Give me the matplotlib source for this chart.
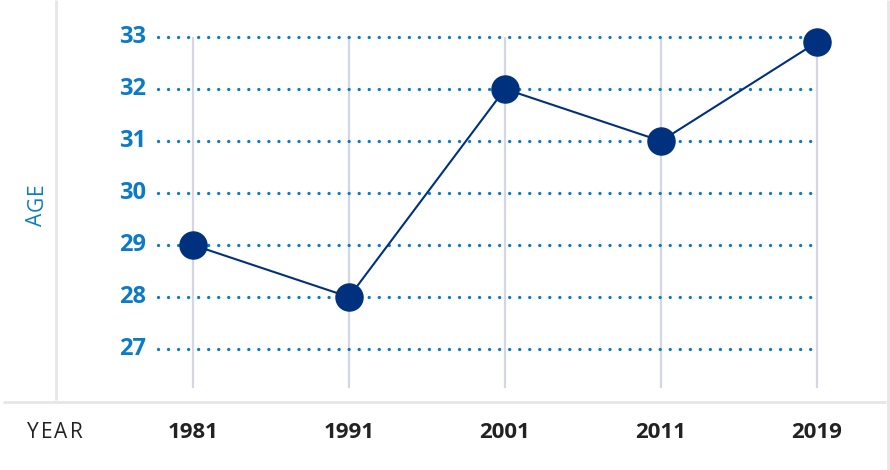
import matplotlib.pyplot as plt
from matplotlib.transforms import IdentityTransform

years = ["1981", "1991", "2001", "2011", "2019"]
ages = [29.0, 28.0, 32.0, 31.0, 32.9]
age_ticks = [27, 28, 29, 30, 31, 32, 33]

navy = "#00317f"
blue = "#0b7bc8"
grid_v = "#d3d7e5"
frame = "#e6e6e9"

plt.rcParams['font.family'] = ['Open Sans', 'DejaVu Sans']

W, H = 890, 470
fig = plt.figure(figsize=(W / 100, H / 100), dpi=100)
ax = fig.add_axes([0, 0, 1, 1])

# pixel mapping: x = 193 + 156*i, y = 37 + 52*(33 - v)
def px(x):
    return (x - 193) / 156

def py(y):
    return 33 - (y - 37) / 52

ax.set_xlim(px(0), px(W))
ax.set_ylim(py(H), py(0))
ax.axis("off")

xs = list(range(len(years)))

# frame lines
ax.plot([px(56), px(56)], [py(0), py(400)], color=frame, lw=2, solid_capstyle="butt")
ax.plot([px(888), px(888)], [py(0), py(H)], color=frame, lw=2, solid_capstyle="butt")
ax.plot([px(3), px(886)], [py(402), py(402)], color=frame, lw=2, solid_capstyle="butt")

# vertical grid lines
for x in xs:
    ax.plot([x, x], [age_ticks[-1], py(388)], color=grid_v, lw=1.6,
            solid_capstyle="butt", zorder=1)

# dotted horizontal grid lines + tick labels
for t in age_ticks:
    ax.plot([px(158), xs[-1]], [t, t], color=blue, lw=2.4,
            dashes=(0.01, 3.0), dash_capstyle="round", zorder=2)
    ax.text(px(146), t, str(t), ha="right", va="center", color=blue,
            fontsize=17, fontweight="bold")

# data
ax.plot(xs, ages, color=navy, lw=1.5, marker="o", markersize=19.5,
        markerfacecolor=navy, markeredgecolor=navy, zorder=3, clip_on=False)

for x, y in zip(xs, years):
    ax.text(x, py(432), y, ha="center", va="center", color="#222222",
            fontsize=16, fontweight="bold")

# letter-spaced axis titles
renderer = fig.canvas.get_renderer()

def spaced(s, x0, y0, gap, vertical, **kw):
    # x0, y0 in image pixels (from top); advance along the baseline
    pos = 0.0
    for ch in s:
        if vertical:
            t = fig.text(x0, H - (y0 - pos), ch, rotation=90, ha="center",
                         va="bottom", transform=IdentityTransform(), **kw)
            pos += t.get_window_extent(renderer).height + gap
        else:
            t = fig.text(x0 + pos, H - y0, ch, ha="left", va="center",
                         transform=IdentityTransform(), **kw)
            pos += t.get_window_extent(renderer).width + gap

spaced("AGE", 37, 226, 2, True, color=blue, fontsize=15)
spaced("YEAR", 27, 432, 2, False, color="#222222", fontsize=15)

fig.savefig("out.png", dpi=100)
